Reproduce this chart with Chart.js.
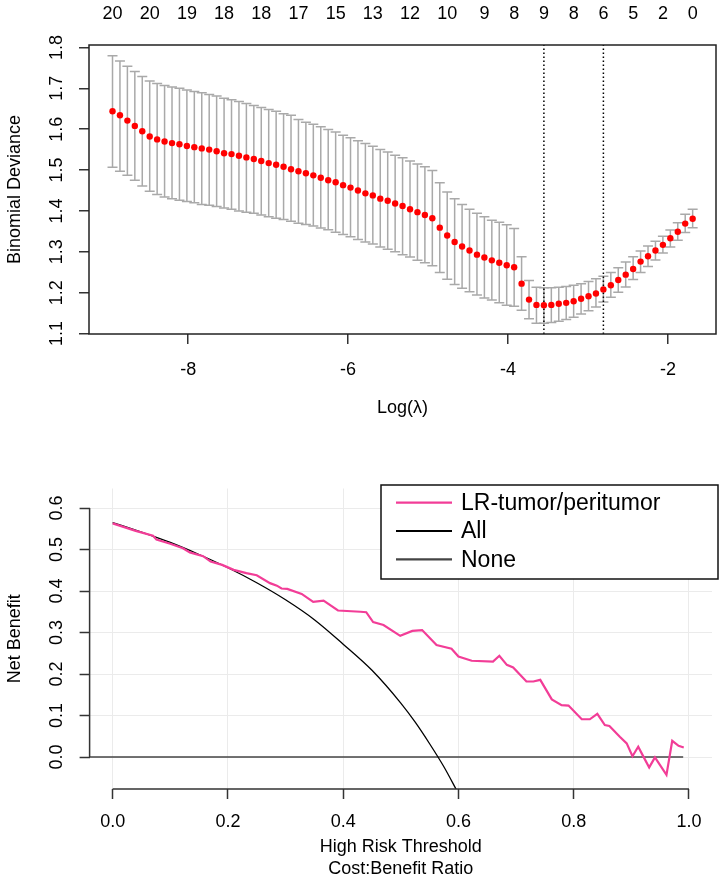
<!DOCTYPE html>
<html>
<head>
<meta charset="utf-8">
<script src="https://cdn.jsdelivr.net/npm/chart.js@4.4.1/dist/chart.umd.min.js"></script>
<style>
  body { margin: 0; background: #fff; }
  canvas { display: block; }
</style>
</head>
<body>
<canvas id="cvChart" width="720" height="430"></canvas>
<canvas id="dcaChart" width="720" height="453"></canvas>
<script>
// ---- top: cv.glmnet deviance curve ----
var logLambda = [-8.946,-8.853,-8.760,-8.667,-8.574,-8.481,-8.388,-8.295,-8.202,-8.109,
  -8.016,-7.923,-7.830,-7.737,-7.644,-7.551,-7.458,-7.365,-7.272,-7.179,
  -7.086,-6.993,-6.900,-6.807,-6.714,-6.621,-6.528,-6.435,-6.342,-6.249,
  -6.156,-6.063,-5.970,-5.877,-5.784,-5.691,-5.598,-5.505,-5.412,-5.319,
  -5.226,-5.133,-5.040,-4.947,-4.854,-4.761,-4.668,-4.575,-4.482,-4.389,
  -4.296,-4.203,-4.110,-4.017,-3.924,-3.831,-3.738,-3.645,-3.552,-3.459,
  -3.366,-3.273,-3.180,-3.087,-2.994,-2.901,-2.808,-2.715,-2.622,-2.529,
  -2.436,-2.343,-2.250,-2.157,-2.064,-1.971,-1.878,-1.785,-1.692];
var cvMean = [1.644,1.634,1.621,1.608,1.595,1.582,1.575,1.570,1.566,1.563,
  1.559,1.556,1.553,1.550,1.546,1.541,1.539,1.535,1.531,1.527,
  1.522,1.517,1.513,1.508,1.502,1.497,1.492,1.487,1.481,1.475,
  1.470,1.463,1.457,1.450,1.443,1.438,1.430,1.425,1.418,1.412,
  1.404,1.397,1.390,1.382,1.359,1.340,1.324,1.313,1.303,1.293,
  1.286,1.279,1.273,1.267,1.262,1.222,1.183,1.170,1.169,1.170,
  1.173,1.175,1.179,1.185,1.191,1.198,1.208,1.218,1.231,1.244,
  1.258,1.276,1.289,1.303,1.317,1.333,1.349,1.369,1.381];
var cvUpper = [1.780,1.767,1.754,1.741,1.729,1.718,1.712,1.707,1.703,1.700,
  1.696,1.692,1.689,1.685,1.681,1.676,1.672,1.668,1.663,1.658,
  1.653,1.648,1.644,1.638,1.634,1.624,1.617,1.612,1.606,1.599,
  1.593,1.585,1.579,1.572,1.565,1.558,1.550,1.544,1.536,1.530,
  1.522,1.515,1.508,1.499,1.469,1.446,1.430,1.416,1.404,1.394,
  1.386,1.377,1.372,1.366,1.357,1.288,1.230,1.213,1.212,1.212,
  1.213,1.215,1.218,1.222,1.227,1.234,1.240,1.249,1.261,1.275,
  1.288,1.302,1.314,1.326,1.338,1.353,1.371,1.392,1.404];
var cvLower = [1.507,1.497,1.487,1.475,1.461,1.448,1.440,1.434,1.430,1.426,
  1.423,1.420,1.416,1.414,1.411,1.407,1.404,1.400,1.397,1.394,
  1.390,1.386,1.382,1.379,1.375,1.370,1.367,1.363,1.358,1.354,
  1.348,1.342,1.337,1.330,1.324,1.319,1.312,1.306,1.300,1.293,
  1.287,1.279,1.273,1.266,1.249,1.233,1.220,1.211,1.202,1.194,
  1.187,1.182,1.175,1.169,1.167,1.157,1.136,1.125,1.125,1.127,
  1.130,1.134,1.140,1.148,1.156,1.165,1.177,1.189,1.201,1.214,
  1.232,1.249,1.264,1.280,1.297,1.312,1.328,1.347,1.359];
var topTickIdx = [0,5,10,15,20,25,30,35,40,45,50,54,58,62,66,70,74,78];
var topTickLabels = ["20","20","19","18","18","17","15","13","12","10","9","8","9","8","6","5","2","0"];
var lambdaMinIdx = 58;
var lambda1seIdx = 66;
var cvXTicks = [-8, -6, -4, -2];
var cvYTicks = [1.1, 1.2, 1.3, 1.4, 1.5, 1.6, 1.7, 1.8];
var cvXRange = [-9.24, -1.4];
var cvYRange = [1.0988, 1.806];

// ---- bottom: decision curve ----
var lrX = [0.000,0.040,0.070,0.076,0.100,0.122,0.134,0.157,0.170,0.190,
  0.210,0.232,0.250,0.273,0.285,0.293,0.303,0.328,0.348,0.366,
  0.391,0.430,0.440,0.452,0.470,0.499,0.520,0.537,0.562,0.588,
  0.600,0.623,0.660,0.671,0.684,0.695,0.718,0.730,0.742,0.762,
  0.779,0.791,0.814,0.828,0.841,0.854,0.862,0.880,0.892,0.902,
  0.912,0.921,0.931,0.941,0.961,0.971,0.982,0.991];
var lrY = [0.563,0.545,0.533,0.524,0.514,0.503,0.493,0.484,0.471,0.463,
  0.451,0.443,0.438,0.419,0.413,0.406,0.405,0.393,0.374,0.377,
  0.353,0.350,0.349,0.325,0.318,0.292,0.304,0.306,0.270,0.261,
  0.242,0.232,0.230,0.244,0.222,0.216,0.182,0.182,0.186,0.139,
  0.125,0.124,0.091,0.091,0.104,0.077,0.075,0.049,0.033,0.002,
  0.025,0.001,-0.025,-0.001,-0.043,0.039,0.027,0.023];
var allX = [0, 0.05, 0.1, 0.15, 0.2, 0.25, 0.3, 0.35, 0.4, 0.45, 0.5, 0.525, 0.55, 0.575, 0.6];
var allY = [0.565, 0.542, 0.517, 0.488, 0.456, 0.420, 0.379, 0.331, 0.272, 0.209, 0.130, 0.084, 0.032, -0.024, -0.088];
var noneX = [-0.04, 0.99];
var noneY = [0, 0];
var dcaXTicks = [0, 0.2, 0.4, 0.6, 0.8, 1.0];
var dcaYTicks = [0, 0.1, 0.2, 0.3, 0.4, 0.5, 0.6];
var dcaXRange = [-0.04, 1.04];
var dcaYRange = [-0.077, 0.647];

var pink = "#F23D97";
Chart.defaults.font.family = "'Liberation Sans', Arial, sans-serif";
Chart.defaults.font.size = 18;
Chart.defaults.color = "#000";

function pts(xs, ys) {
  return xs.map(function (v, i) { return {x: v, y: ys[i]}; });
}

// R style y tick labels, turned upright
function rotatedYLabels(id, cx) {
  return {
    id: id,
    afterDraw: function (chart) {
      var ctx = chart.ctx, s = chart.scales.y;
      ctx.save();
      ctx.fillStyle = "#000";
      ctx.font = "18px 'Liberation Sans', Arial, sans-serif";
      ctx.textAlign = "center";
      ctx.textBaseline = "middle";
      s.ticks.forEach(function (t) {
        ctx.save();
        ctx.translate(cx, s.getPixelForValue(t.value));
        ctx.rotate(-Math.PI / 2);
        ctx.fillText(t.value.toFixed(1), 0, 0);
        ctx.restore();
      });
      ctx.restore();
    }
  };
}

var errorBars = {
  id: "errorBars",
  beforeDatasetsDraw: function (chart) {
    var ctx = chart.ctx, x = chart.scales.x, y = chart.scales.y;
    ctx.save();
    ctx.strokeStyle = "#A9A9A9";
    ctx.lineWidth = 1.5;
    logLambda.forEach(function (v, i) {
      var px = x.getPixelForValue(v);
      var top = y.getPixelForValue(cvUpper[i]);
      var bot = y.getPixelForValue(cvLower[i]);
      ctx.beginPath();
      ctx.moveTo(px, top); ctx.lineTo(px, bot);
      ctx.moveTo(px - 5, top); ctx.lineTo(px + 5, top);
      ctx.moveTo(px - 5, bot); ctx.lineTo(px + 5, bot);
      ctx.stroke();
    });
    ctx.restore();
  }
};

var plotBox = {
  id: "plotBox",
  afterDraw: function (chart) {
    var a = chart.chartArea, ctx = chart.ctx;
    ctx.save();
    ctx.strokeStyle = "#222";
    ctx.lineWidth = 1.5;
    ctx.strokeRect(a.left, a.top, a.right - a.left, a.bottom - a.top);
    ctx.restore();
  }
};

new Chart("cvChart", {
  type: "scatter",
  data: {
    datasets: [{
      data: pts(logLambda, cvMean),
      backgroundColor: "#FF0000",
      pointRadius: 3.2,
      pointBorderWidth: 0
    }, {
      type: "line",
      data: [{x: logLambda[lambdaMinIdx], y: cvYRange[0]}, {x: logLambda[lambdaMinIdx], y: cvYRange[1]}],
      borderColor: "#000", borderWidth: 1.5, borderDash: [1.5, 2.5], pointRadius: 0
    }, {
      type: "line",
      data: [{x: logLambda[lambda1seIdx], y: cvYRange[0]}, {x: logLambda[lambda1seIdx], y: cvYRange[1]}],
      borderColor: "#000", borderWidth: 1.5, borderDash: [1.5, 2.5], pointRadius: 0
    }]
  },
  options: {
    responsive: false,
    animation: false,
    layout: {padding: {top: 0, right: 4, left: 0, bottom: 0}, autoPadding: false},
    plugins: {legend: {display: false}, tooltip: {enabled: false}},
    scales: {
      x: {
        type: "linear", position: "bottom", bounds: "data",
        min: cvXRange[0], max: cvXRange[1],
        afterBuildTicks: function (s) { s.ticks = cvXTicks.map(function (v) { return {value: v}; }); },
        afterFit: function (s) { s.height = 96; },
        grid: {drawOnChartArea: false, tickLength: 10, tickColor: "#333", lineWidth: 1.5},
        border: {display: false},
        ticks: {autoSkip: false, maxRotation: 0, padding: 15, callback: function (v) { return String(v); }},
        title: {display: true, text: "Log(\u03bb)", padding: {top: 0, bottom: 11}}
      },
      x2: {
        type: "linear", position: "top", bounds: "data",
        min: cvXRange[0], max: cvXRange[1],
        afterBuildTicks: function (s) { s.ticks = topTickIdx.map(function (i) { return {value: logLambda[i]}; }); },
        afterFit: function (s) { s.height = 45; },
        grid: {display: false, drawTicks: false},
        border: {display: false},
        ticks: {autoSkip: false, maxRotation: 0, padding: 20, callback: function (v, i) { return topTickLabels[i]; }}
      },
      y: {
        type: "linear", bounds: "data",
        min: cvYRange[0], max: cvYRange[1],
        afterBuildTicks: function (s) { s.ticks = cvYTicks.map(function (v) { return {value: v}; }); },
        afterFit: function (s) { s.width = 89; },
        grid: {drawOnChartArea: false, tickLength: 10, tickColor: "#333", lineWidth: 1.5},
        border: {display: false},
        ticks: {display: false},
        title: {display: true, text: "Binomial Deviance", padding: {top: 4, bottom: 0}}
      }
    }
  },
  plugins: [errorBars, plotBox, rotatedYLabels("cvYLabels", 57)]
});

var rAxes = {
  id: "rAxes",
  afterDraw: function (chart) {
    var ctx = chart.ctx, x = chart.scales.x, y = chart.scales.y, a = chart.chartArea;
    ctx.save();
    ctx.strokeStyle = "#333";
    ctx.lineWidth = 1.5;
    ctx.beginPath();
    ctx.moveTo(x.getPixelForValue(dcaXTicks[0]), a.bottom);
    ctx.lineTo(x.getPixelForValue(dcaXTicks[dcaXTicks.length - 1]), a.bottom);
    ctx.moveTo(a.left, y.getPixelForValue(dcaYTicks[0]));
    ctx.lineTo(a.left, y.getPixelForValue(dcaYTicks[dcaYTicks.length - 1]));
    ctx.stroke();
    ctx.restore();
  }
};

var boxLegend = {
  id: "boxLegend",
  afterDraw: function (chart) {
    var ctx = chart.ctx, a = chart.chartArea;
    var right = a.right + 6, top = a.top - 3.5, w = 337, h = 94;
    var left = right - w;
    ctx.save();
    ctx.fillStyle = "#fff";
    ctx.fillRect(left, top, w, h);
    ctx.strokeStyle = "#111";
    ctx.lineWidth = 1.5;
    ctx.strokeRect(left, top, w, h);
    ctx.font = "23px 'Liberation Sans', Arial, sans-serif";
    ctx.textBaseline = "middle";
    chart.data.datasets.forEach(function (ds, i) {
      var yy = top + 17.7 + i * 28.3;
      ctx.strokeStyle = ds.borderColor;
      ctx.lineWidth = 2.2;
      ctx.beginPath();
      ctx.moveTo(left + 15, yy);
      ctx.lineTo(left + 71, yy);
      ctx.stroke();
      ctx.fillStyle = "#000";
      ctx.fillText(ds.label, left + 80, yy + 1);
    });
    ctx.restore();
  }
};

new Chart("dcaChart", {
  type: "line",
  data: {
    datasets: [{
      label: "LR-tumor/peritumor",
      data: pts(lrX, lrY),
      borderColor: pink, borderWidth: 2.2, pointRadius: 0, tension: 0
    }, {
      label: "All",
      data: pts(allX, allY),
      borderColor: "#000", borderWidth: 1.3, pointRadius: 0, cubicInterpolationMode: "monotone"
    }, {
      label: "None",
      data: pts(noneX, noneY),
      borderColor: "#444", borderWidth: 1.6, pointRadius: 0
    }]
  },
  options: {
    responsive: false,
    animation: false,
    layout: {padding: {top: 58.5, right: 8, left: 0, bottom: 0}, autoPadding: false},
    plugins: {legend: {display: false}, tooltip: {enabled: false}},
    scales: {
      x: {
        type: "linear", bounds: "data",
        min: dcaXRange[0], max: dcaXRange[1],
        afterBuildTicks: function (s) { s.ticks = dcaXTicks.map(function (v) { return {value: v}; }); },
        afterFit: function (s) { s.height = 94; },
        grid: {color: "#EBEBEB", lineWidth: 1, tickLength: 10, tickColor: "#333", tickWidth: 1.5},
        border: {display: false},
        ticks: {autoSkip: false, maxRotation: 0, padding: 12, callback: function (v) { return v.toFixed(1); }},
        title: {display: true, text: ["High Risk Threshold", "Cost:Benefit Ratio"],
          font: {size: 18, lineHeight: 1.25}, padding: {top: 0, bottom: 2.4}}
      },
      y: {
        type: "linear", bounds: "data",
        min: dcaYRange[0], max: dcaYRange[1],
        afterBuildTicks: function (s) { s.ticks = dcaYTicks.map(function (v) { return {value: v}; }); },
        afterFit: function (s) { s.width = 89.6; },
        grid: {color: "#EBEBEB", lineWidth: 1, tickLength: 10, tickColor: "#333", tickWidth: 1.5},
        border: {display: false},
        ticks: {display: false},
        title: {display: true, text: "Net Benefit", padding: {top: 4, bottom: 0}}
      }
    }
  },
  plugins: [rAxes, boxLegend, rotatedYLabels("dcaYLabels", 57)]
});
</script>
</body>
</html>
